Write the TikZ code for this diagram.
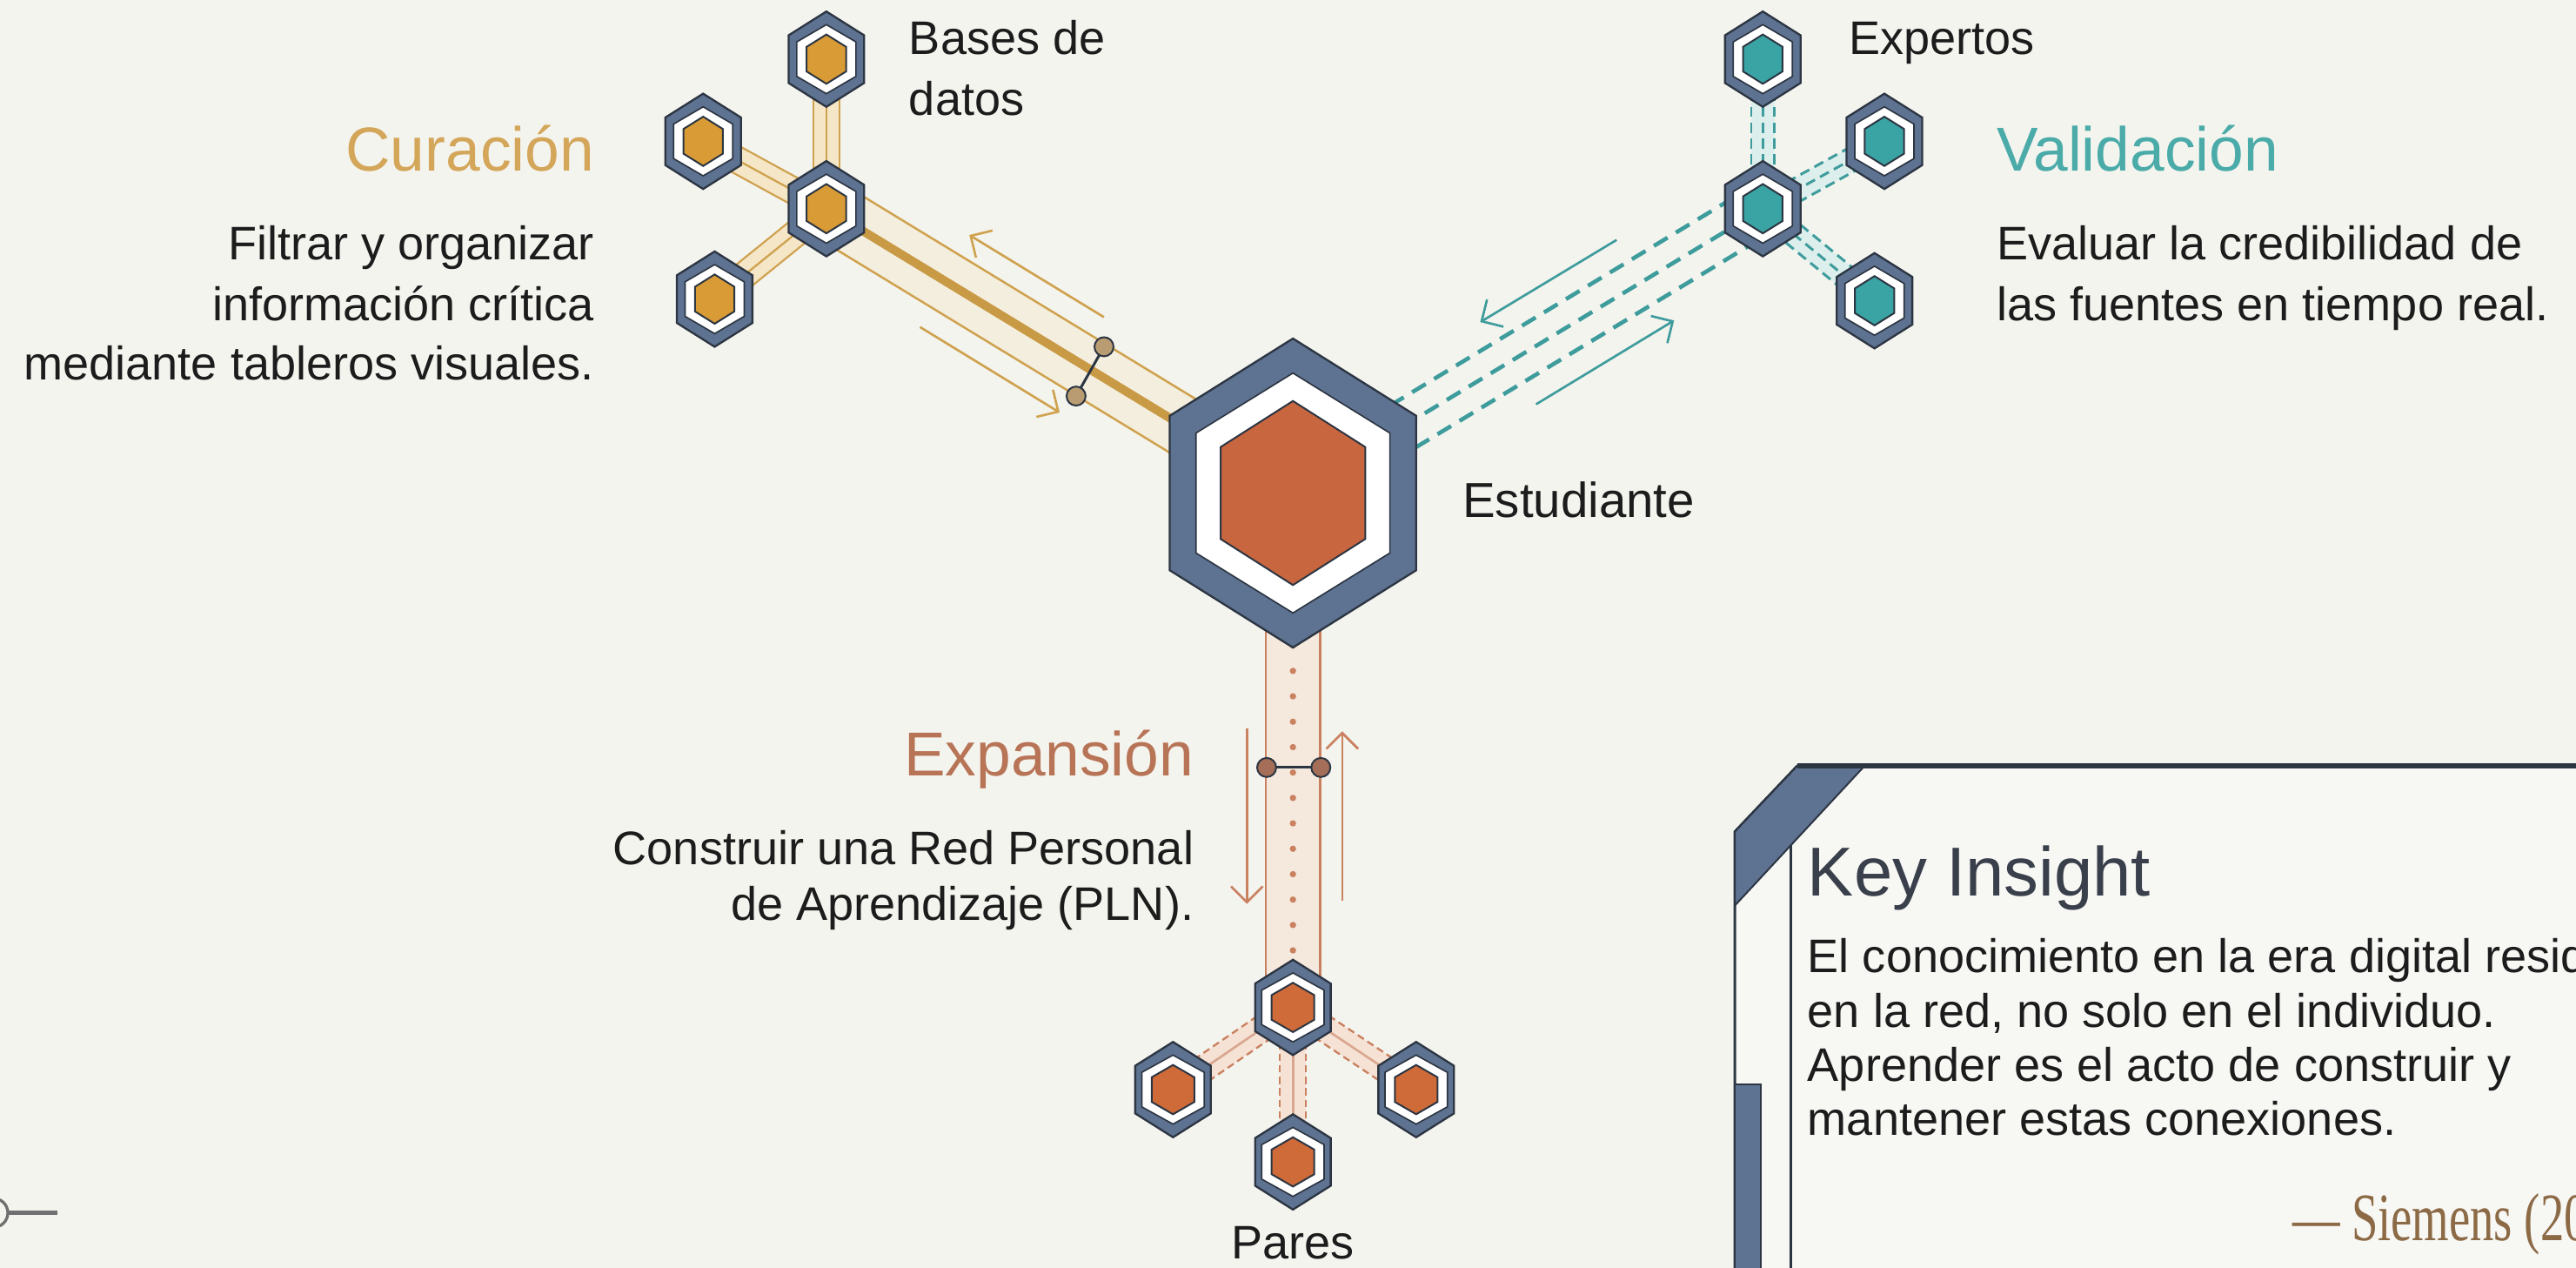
\documentclass[tikz,border=0pt]{standalone}
\usepackage{fontspec}
\setmainfont{Liberation Sans}
\newfontfamily\quotefont[FakeStretch=0.7]{Liberation Serif}
\usetikzlibrary{calc,arrows.meta}

\definecolor{bgc}{HTML}{F4F4EF}
\definecolor{slate}{HTML}{5E7291}
\definecolor{hexline}{HTML}{2C3542}
\definecolor{goldcore}{HTML}{D99B35}
\definecolor{goldline}{HTML}{CFA24F}
\definecolor{goldthick}{HTML}{C99A45}
\definecolor{cream}{HTML}{F5E6C8}
\definecolor{goldtitle}{HTML}{D4A65A}
\definecolor{tealcore}{HTML}{3AA3A3}
\definecolor{tealline}{HTML}{3E9C9C}
\definecolor{tealfill}{HTML}{DCEFEC}
\definecolor{tealtitle}{HTML}{4AABA9}
\definecolor{orcore}{HTML}{C8663F}
\definecolor{orsmall}{HTML}{CF6B39}
\definecolor{orline}{HTML}{C98160}
\definecolor{peach}{HTML}{F6E2D4}
\definecolor{ortitle}{HTML}{B87456}
\definecolor{linkgold}{HTML}{B99C72}
\definecolor{linkor}{HTML}{A46E58}
\definecolor{txt}{HTML}{1C1C1C}
\definecolor{keyc}{HTML}{3A404B}
\definecolor{quotec}{HTML}{8C6A46}
\definecolor{cardfill}{HTML}{F7F7F4}
\definecolor{decoc}{HTML}{707070}

\newcommand{\tripledash}[4]{%
  \draw[#4] ($(#1)!#3!90:(#2)$) -- ($(#2)!#3!-90:(#1)$);
  \draw[#4] (#1) -- (#2);
  \draw[#4] ($(#1)!#3!-90:(#2)$) -- ($(#2)!#3!90:(#1)$);
}

\tikzset{
  pics/hexcell/.style n args={7}{code={
    \filldraw[fill=slate,draw=hexline,line width=0.7pt]
      (0,-#2) -- (#1,-#2/2) -- (#1,#2/2) -- (0,#2) -- (-#1,#2/2) -- (-#1,-#2/2) -- cycle;
    \filldraw[fill=white,draw=hexline,line width=0.5pt]
      (0,-#4) -- (#3,-#4/2) -- (#3,#4/2) -- (0,#4) -- (-#3,#4/2) -- (-#3,-#4/2) -- cycle;
    \filldraw[fill=#7,draw=hexline,line width=0.6pt]
      (0,-#6) -- (#5,-#6/2) -- (#5,#6/2) -- (0,#6) -- (-#5,#6/2) -- (-#5,-#6/2) -- cycle;
  }},
  txtnode/.style={inner sep=0pt, text=txt, font=\fontsize{16.3}{19}\selectfont},
  titlenode/.style={inner sep=0pt, font=\fontsize{21.5}{25}\selectfont},
  labelnode/.style={inner sep=0pt, text=txt, font=\fontsize{16.3}{19}\selectfont},
  goldband/.style={draw=goldline, line width=0.7pt, double=cream, double distance=8.4pt},
  goldmain/.style={draw=goldline, line width=0.8pt, double=cream!40!bgc, double distance=19.7pt},
  goldthin/.style={draw=goldline, line width=0.7pt},
  goldbig/.style={draw=goldthick, line width=3pt},
  tealdash/.style={draw=tealline, line width=1.4pt, dash pattern=on 5.5pt off 3.4pt},
  tealsmall/.style={draw=tealline, line width=0.9pt, dash pattern=on 3.5pt off 2pt},
  tealbandfill/.style={draw=tealfill, line width=8pt},
  ormain/.style={draw=orline, line width=0.8pt, double=peach!65!bgc, double distance=18pt},
  ordots/.style={draw=orline, line width=2.2pt, line cap=round, dash pattern=on 0pt off 8.8pt},
  orbandfill/.style={draw=peach, line width=9pt},
  ordash/.style={draw=orline, line width=0.7pt, dash pattern=on 2.5pt off 1.5pt},
  orcenter/.style={draw=orline!70!white, line width=0.8pt},
  flowarrow/.style={line width=0.8pt, -{Straight Barb[length=5.5pt,width=11pt,line width=0.8pt]}},
  linkbar/.style={draw=hexline, line width=0.9pt},
}

\begin{document}
\begin{tikzpicture}[x=0.02cm,y=-0.02cm]
\useasboundingbox (0,0) rectangle (1568,771.5);
\fill[bgc] (0,0) rectangle (1568,771.5);
\clip (0,0) rectangle (1568,771.5);

% ---------- coordinates of cells ----------
\coordinate (C) at (787,300);
\coordinate (G) at (503,127);
\coordinate (GT) at (503,36);
\coordinate (GL) at (428,86);
\coordinate (GB) at (435,182);
\coordinate (T) at (1073,127);
\coordinate (TT) at (1073,36);
\coordinate (TR) at (1147,86);
\coordinate (TB) at (1141,183);
\coordinate (P) at (787,613);
\coordinate (PL) at (714,663);
\coordinate (PR) at (862,663);
\coordinate (PB) at (787,707);

% ---------- gold connectors ----------
\draw[goldband] (GT) -- (G);
\draw[goldthin] (GT) -- (G);
\draw[goldband] (GL) -- (G);
\draw[goldthin] (GL) -- (G);
\draw[goldband] (GB) -- (G);
\draw[goldthin] (GB) -- (G);
\draw[goldmain] (G) -- (C);
\draw[goldbig] (G) -- (C);

% ---------- teal connectors ----------
\draw[tealbandfill] (TT) -- (T);
\draw[tealbandfill] (TR) -- (T);
\draw[tealbandfill] (TB) -- (T);
\tripledash{TT}{T}{4pt}{tealsmall}
\tripledash{TR}{T}{4pt}{tealsmall}
\tripledash{TB}{T}{4pt}{tealsmall}
\tripledash{C}{T}{8.5pt}{tealdash}

% ---------- orange connectors ----------
\draw[ormain] (C) -- (P);
\draw[ordots] (C) -- (P);
\foreach \q in {PL,PR,PB}{
  \draw[orbandfill] (P) -- (\q);
  \draw[ordash] ($(P)!4.5pt!90:(\q)$) -- ($(\q)!4.5pt!-90:(P)$);
  \draw[ordash] ($(P)!4.5pt!-90:(\q)$) -- ($(\q)!4.5pt!90:(P)$);
  \draw[orcenter] (P) -- (\q);
}

% ---------- flow arrows ----------
\coordinate (ga1s) at (672,193); \coordinate (ga1e) at (590,143);
\coordinate (ga2s) at (560,199); \coordinate (ga2e) at (645,251);
\draw[flowarrow, goldline] (ga1s) -- (ga1e);
\draw[flowarrow, goldline] (ga2s) -- (ga2e);
\coordinate (ta1s) at (984,146); \coordinate (ta1e) at (901,196);
\coordinate (ta2s) at (935,246); \coordinate (ta2e) at (1019,195);
\draw[flowarrow, tealline] (ta1s) -- (ta1e);
\draw[flowarrow, tealline] (ta2s) -- (ta2e);
\coordinate (oa1s) at (759,443); \coordinate (oa1e) at (759,550);
\coordinate (oa2s) at (817,548); \coordinate (oa2e) at (817,445);
\draw[flowarrow, orline] (oa1s) -- (oa1e);
\draw[flowarrow, orline] (oa2s) -- (oa2e);

% ---------- link glyphs ----------
\coordinate (gk1) at (672,211); \coordinate (gk2) at (655,241);
\draw[linkbar] (gk1) -- (gk2);
\filldraw[fill=linkgold, draw=hexline, line width=0.6pt] (gk1) circle (3.3pt);
\filldraw[fill=linkgold, draw=hexline, line width=0.6pt] (gk2) circle (3.3pt);
\coordinate (ok1) at (771,467); \coordinate (ok2) at (804,467);
\draw[linkbar] (ok1) -- (ok2);
\filldraw[fill=linkor, draw=hexline, line width=0.6pt] (ok1) circle (3.3pt);
\filldraw[fill=linkor, draw=hexline, line width=0.6pt] (ok2) circle (3.3pt);

% ---------- cells ----------
\pic at (C) {hexcell={75}{94}{59}{73}{44}{56}{orcore}};
\foreach \q in {G,GT,GL,GB}{\pic at (\q) {hexcell={23}{29}{18}{21}{12}{15}{goldcore}};}
\foreach \q in {T,TT,TR,TB}{\pic at (\q) {hexcell={23}{29}{18}{21}{12}{15}{tealcore}};}
\foreach \q in {P,PL,PR,PB}{\pic at (\q) {hexcell={23}{29}{19}{21}{13}{15}{orsmall}};}

% ---------- labels ----------
\node[labelnode, anchor=base west] (basesA) at (553,33) {Bases de};
\node[labelnode, anchor=base west] (basesB) at (553,70) {datos};
\node[labelnode, anchor=base west] (expertos) at (1125,33) {Expertos};
\node[inner sep=0pt, text=txt, font=\fontsize{17}{20}\selectfont, anchor=base west] (estud) at (890,315) {Estudiante};
\node[labelnode, anchor=base] (pares) at (787,766) {Pares};

\node[titlenode, text=goldtitle, anchor=base east] (curT) at (362,104) {Curación};
\node[txtnode, anchor=base east] (cur1) at (362,158) {Filtrar y organizar};
\node[txtnode, anchor=base east] (cur2) at (362,195) {información crítica};
\node[txtnode, anchor=base east] (cur3) at (362,231) {mediante tableros visuales.};

\node[titlenode, text=tealtitle, anchor=base west] (valT) at (1215,104) {Validación};
\node[txtnode, anchor=base west] (val1) at (1215,158) {Evaluar la credibilidad de};
\node[txtnode, anchor=base west] (val2) at (1215,195) {las fuentes en tiempo real.};

\node[titlenode, text=ortitle, anchor=base east] (expT) at (727,472) {Expansión};
\node[txtnode, anchor=base east] (exp1) at (727,526) {Construir una Red Personal};
\node[txtnode, anchor=base east] (exp2) at (727,560) {de Aprendizaje (PLN).};

% ---------- key insight card ----------
\filldraw[fill=cardfill, draw=hexline, line width=0.9pt]
  (1056,790) -- (1056,506) -- (1094,466) -- (1590,466) -- (1590,790) -- cycle;
\filldraw[fill=slate, draw=hexline, line width=0.6pt]
  (1056,506) -- (1094,466) -- (1135,466) -- (1056,551) -- cycle;
\draw[hexline, line width=1.6pt] (1094,466) -- (1590,466);
\draw[hexline, line width=0.7pt] (1090,514) -- (1090,790);
\filldraw[fill=slate, draw=hexline, line width=0.6pt] (1056,660) rectangle (1072,790);

\node[inner sep=0pt, text=keyc, font=\fontsize{24}{28}\selectfont, anchor=base west] (keyT) at (1100,545) {Key Insight};
\node[txtnode, anchor=base west] (key1) at (1100,592) {El conocimiento en la era digital reside};
\node[txtnode, anchor=base west] (key2) at (1100,625) {en la red, no solo en el individuo.};
\node[txtnode, anchor=base west] (key3) at (1100,658) {Aprender es el acto de construir y};
\node[txtnode, anchor=base west] (key4) at (1100,691) {mantener estas conexiones.};
\node[inner sep=0pt, text=quotec, font=\quotefont\fontsize{23.5}{27}\selectfont, anchor=base west] (quote) at (1395,755) {— Siemens (2005)};

% ---------- corner decoration ----------
\coordinate (deco) at (-4,738);
\coordinate (decoe) at (35,738);
\draw[decoc, line width=1pt] (deco) circle (5pt);
\draw[decoc, line width=1.3pt] ($(deco)+(9,0)$) -- (decoe);
\end{tikzpicture}
\end{document}
